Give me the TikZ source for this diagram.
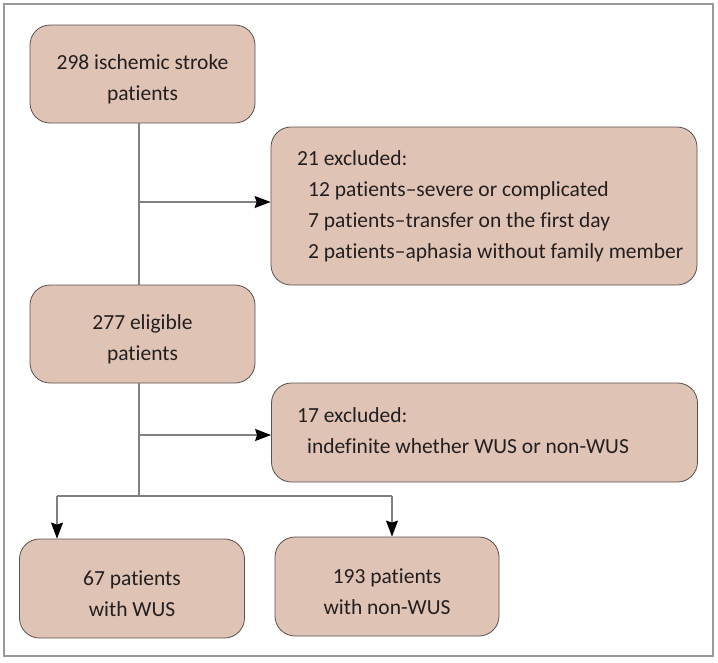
\documentclass[tikz,border=0pt]{standalone}
\usepackage{fontspec}
\setmainfont{Carlito}[Ligatures={NoCommon,TeX}]
\usetikzlibrary{arrows.meta}
\definecolor{boxfill}{HTML}{DFC3B4}
\definecolor{boxdraw}{HTML}{5A504C}
\definecolor{linegray}{HTML}{808080}
\definecolor{txt}{HTML}{231F20}
\begin{document}
\begin{tikzpicture}[x=1pt,y=-1pt,
  flowbox/.style={draw=boxdraw,line width=0.8pt,fill=boxfill,rounded corners=20pt,inner sep=0pt},
  ctext/.style={text=txt,font=\fontsize{21.5}{31}\selectfont,align=center,inner sep=0pt},
  ltext/.style={text=txt,font=\fontsize{21.5}{31}\selectfont,align=left,anchor=west,inner sep=0pt},
  conn/.style={draw=linegray,line width=1.2pt},
  arr/.style={conn,-{Stealth[length=16pt,width=12pt,inset=2pt,fill=black,color=black]}}]
\useasboundingbox (0,0) rectangle (718,662);
\draw[draw=linegray!80,line width=1.2pt] (4,4) rectangle (713,656);
% boxes
\node[flowbox,minimum width=225pt,minimum height=98pt] (b1) at (142.5,74) {};
\node[flowbox,minimum width=426pt,minimum height=158pt] (b2) at (484,206) {};
\node[flowbox,minimum width=225pt,minimum height=98pt] (b3) at (142.5,334) {};
\node[flowbox,minimum width=426pt,minimum height=99pt] (b4) at (484.5,432.5) {};
\node[flowbox,minimum width=225pt,minimum height=99pt] (b5) at (132,588.5) {};
\node[flowbox,minimum width=224pt,minimum height=99pt] (b6) at (387,586.5) {};
% texts
\node[ctext] (t1) at (142.5,79) {298 ischemic stroke\\patients};
\node[ltext] (t2) at (297,206)
  {21 excluded:\\\hspace*{11pt}12 patients–severe or complicated\\\hspace*{11pt}7 patients–transfer on the first day\\\hspace*{11pt}2 patients–aphasia without family member};
\node[ctext] (t3) at (142.5,339) {277 eligible\\patients};
\node[ltext] (t4) at (297,431)
  {17 excluded:\\\hspace*{10pt}indefinite whether WUS or non-WUS};
\node[ctext] (t5) at (132,593.5) {67 patients\\with WUS};
\node[ctext] (t6) at (387,591.5) {193 patients\\with non-WUS};
% connectors
\coordinate (s1) at (139,123);
\coordinate (j1) at (139,202);
\coordinate (e3) at (139,285);
\coordinate (s3) at (139,383);
\coordinate (j2) at (139,435);
\coordinate (j3) at (139,496);
\coordinate (l5) at (57,496);
\coordinate (l6) at (392,496);
\draw[conn] (s1) -- (e3);
\draw[arr] (j1) -- (j1 -| b2.west);
\draw[conn] (s3) -- (j3);
\draw[arr] (j2) -- (j2 -| b4.west);
\draw[conn] (l5) -- (l6);
\draw[arr] (l5) -- (l5 |- b5.north);
\draw[arr] (l6) -- (l6 |- b6.north);
\end{tikzpicture}
\end{document}
